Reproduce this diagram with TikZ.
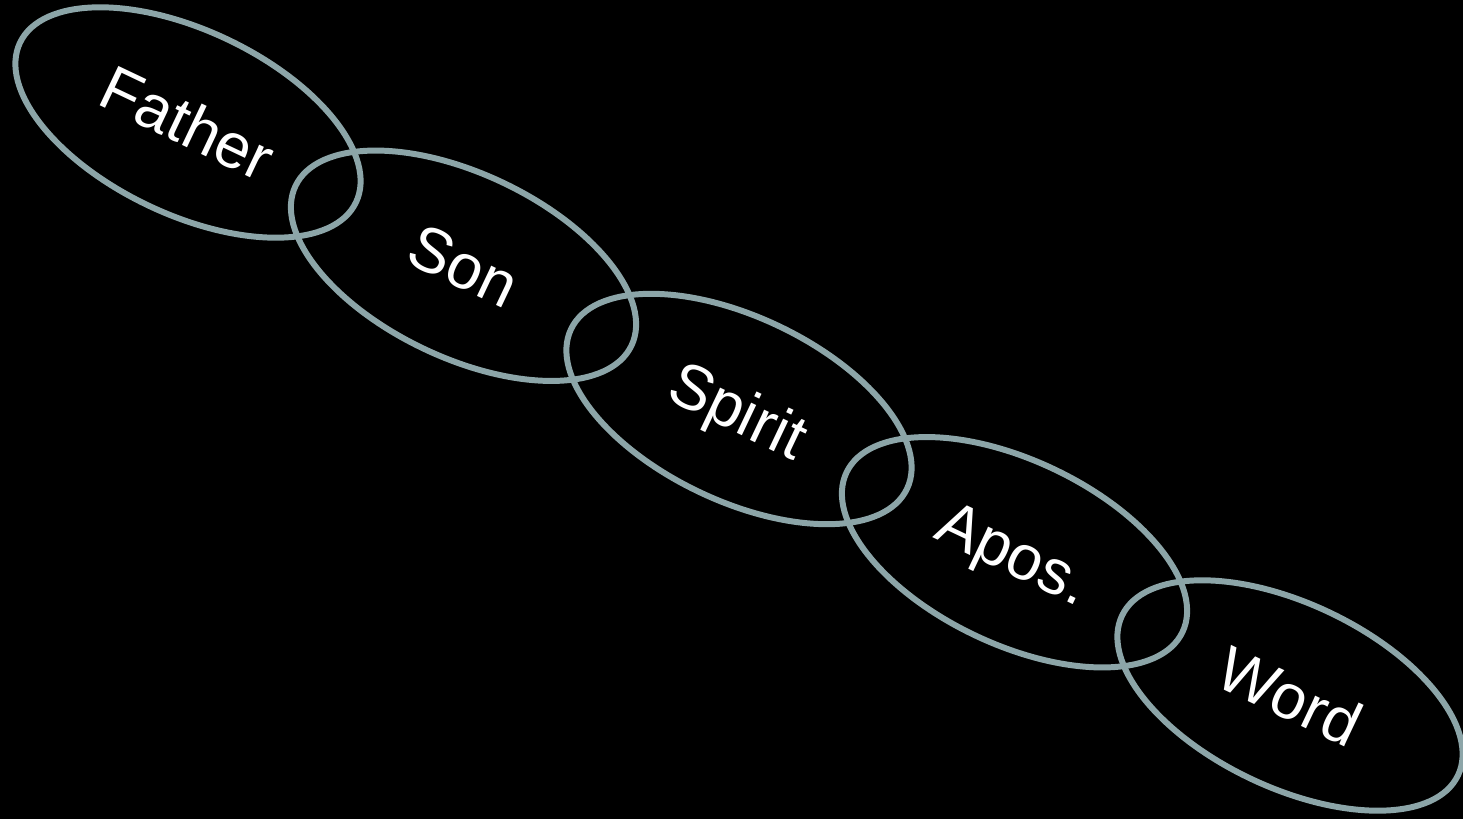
\documentclass[tikz,border=0pt]{standalone}
\usepackage{fontspec}
\setmainfont{Liberation Sans}
\usetikzlibrary{shapes,positioning}

\definecolor{ringgrey}{HTML}{8CA5A8}
\tikzset{
  ring/.style={ellipse, draw=ringgrey, line width=1.7pt, inner sep=0pt,
    minimum width=3.72cm, minimum height=1.84cm, rotate=-25.4,
    text=white, text depth=0pt, font=\fontsize{18}{21}\selectfont}
}

\begin{document}
\begin{tikzpicture}
  \fill[black] (0,0) rectangle (14.63,8.19);
  \useasboundingbox (0,0) rectangle (14.63,8.19);

  \node[ring] (father) at (1.88,6.965) {Father};
  \node[ring] (son) at (4.635,5.5325) {Son};
  \node[ring] (spirit) at (7.39,4.10) {Spirit};
  \node[ring] (apos) at (10.145,2.6675) {Apos.};
  \node[ring] (word) at (12.90,1.235) {Word};

\end{tikzpicture}
\end{document}
